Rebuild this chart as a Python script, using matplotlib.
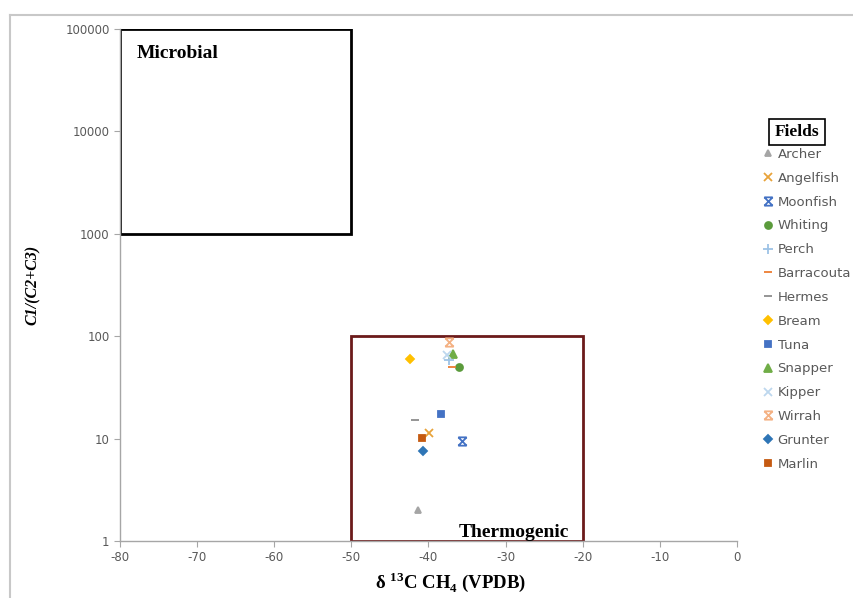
import matplotlib
matplotlib.use("Agg")
import matplotlib.pyplot as plt
from matplotlib.path import Path
from matplotlib.patches import Rectangle
from matplotlib.lines import Line2D

plt.rcParams["mathtext.fontset"] = "custom"
plt.rcParams["mathtext.rm"] = "Liberation Serif:bold"
plt.rcParams["mathtext.bf"] = "Liberation Serif:bold"
plt.rcParams["axes.unicode_minus"] = False

# Data
fields = ["Archer", "Angelfish", "Moonfish", "Whiting", "Perch", "Barracouta", "Hermes",
          "Bream", "Tuna", "Snapper", "Kipper", "Wirrah", "Grunter", "Marlin"]
d13c = [-41.3, -39.9, -35.7, -36.1, -37.3, -37.0, -41.7,
        -42.4, -38.4, -36.8, -37.6, -37.4, -40.7, -40.8]
ratio = [2.0, 11.3, 9.5, 50.4, 58.5, 50.4, 15.2,
         60.0, 17.4, 67.0, 65.5, 88.0, 7.6, 10.2]

# Excel "star" marker: an X with bars on top and bottom
star = Path([(-1, -1), (1, 1), (-1, 1), (1, -1), (-1, 1), (1, 1), (-1, -1), (1, -1)],
            [Path.MOVETO, Path.LINETO, Path.MOVETO, Path.LINETO,
             Path.MOVETO, Path.LINETO, Path.MOVETO, Path.LINETO])

styles = {
    "Archer": ("^", "#a5a5a5", 5),
    "Angelfish": ("x", "#e8a33a", 6),
    "Moonfish": (star, "#4472c4", 6),
    "Whiting": ("o", "#5b9b3c", 5),
    "Perch": ("+", "#9dc3e6", 7),
    "Barracouta": ("_", "#ed7d31", 6),
    "Hermes": ("_", "#8c8c8c", 6),
    "Bream": ("D", "#ffc000", 4.5),
    "Tuna": ("s", "#4472c4", 4.5),
    "Snapper": ("^", "#70ad47", 5.5),
    "Kipper": ("x", "#bdd7ee", 6),
    "Wirrah": (star, "#f4b183", 6),
    "Grunter": ("D", "#2e75b6", 4.5),
    "Marlin": ("s", "#c55a11", 5),
}

fig = plt.figure(figsize=(8.54, 5.98), dpi=100)
ax = fig.add_axes([120 / 854, 1 - 541 / 598, 617 / 854, 512 / 598])

# figure border (top and left visible)
fig.add_artist(Line2D([10 / 854, 10 / 854], [0, 1 - 15 / 598], transform=fig.transFigure,
                      color="#c8c8c8", lw=1.5))
fig.add_artist(Line2D([10 / 854, 1], [1 - 15 / 598, 1 - 15 / 598], transform=fig.transFigure,
                      color="#c8c8c8", lw=1.5))

ax.set_yscale("log")
ax.set_xlim(-80, 0)
ax.set_ylim(1, 100000)

ax.add_patch(Rectangle((-80, 1000), 30, 99000, fill=False, ec="black", lw=2, zorder=1))
ax.add_patch(Rectangle((-50, 1), 30, 99, fill=False, ec="#6b1a1a", lw=2, zorder=1))
ax.text(-77.9, 57000, "Microbial", family="Liberation Serif", weight="bold",
        fontsize=14, va="center", ha="left")
ax.text(-21.8, 1.2, "Thermogenic", family="Liberation Serif", weight="bold",
        fontsize=14, va="center", ha="right")

handles = []
for name, x, y in zip(fields, d13c, ratio):
    m, c, s = styles[name]
    h, = ax.plot([x], [y], linestyle="none", marker=m, color=c, markersize=s,
                 markeredgewidth=1.3, label=name, zorder=3)
    handles.append(h)

for side in ["top", "right"]:
    ax.spines[side].set_visible(False)
for side in ["left", "bottom"]:
    ax.spines[side].set_color("#a6a6a6")
    ax.spines[side].set_linewidth(1)
ax.set_xticks(range(-80, 1, 10))
ax.set_yticks([1, 10, 100, 1000, 10000, 100000])
ax.set_yticklabels(["1", "10", "100", "1000", "10000", "100000"])
ax.minorticks_off()
ax.tick_params(axis="both", colors="#a6a6a6", labelcolor="#595959", labelsize=8.5,
               length=4, direction="out")

ax.set_xlabel(r"δ $^{13}$C CH$_4$ (VPDB)", family="Liberation Serif", weight="bold",
              fontsize=13.5)
ax.xaxis.set_label_coords((451 - 120) / 617, -0.056)
ax.set_ylabel("C1/(C2+C3)", family="Liberation Serif", weight="bold", style="italic",
              fontsize=11.5)
ax.yaxis.set_label_coords((41 - 120) / 617, 0.5)

fig.text(797 / 854, 1 - 132 / 598, "Fields", family="Liberation Serif", weight="bold",
         fontsize=12.5, ha="center", va="center",
         bbox=dict(boxstyle="square,pad=0.3", fc="white", ec="black", lw=1.2))
leg = fig.legend(handles=handles, loc="upper left", bbox_to_anchor=(763 / 854, 1 - 148 / 598),
                 frameon=False, fontsize=9.5, handlelength=0.8, handletextpad=0.3,
                 labelspacing=0.82, borderpad=0, borderaxespad=0)
for t in leg.get_texts():
    t.set_color("#595959")

fig.savefig("out.png", dpi=100)
